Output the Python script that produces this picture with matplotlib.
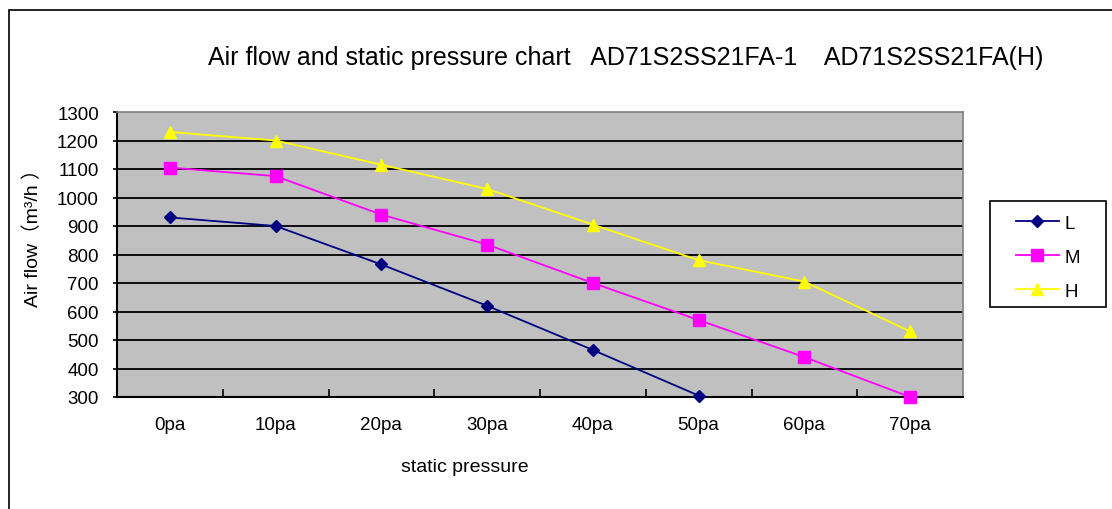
import matplotlib
matplotlib.use("Agg")
import matplotlib.pyplot as plt
from matplotlib.patches import Rectangle

categories = ["0pa", "10pa", "20pa", "30pa", "40pa", "50pa", "60pa", "70pa"]
L_vals = [930, 900, 765, 620, 465, 305]
M_vals = [1105, 1075, 940, 835, 700, 570, 440, 300]
H_vals = [1230, 1200, 1115, 1030, 905, 780, 705, 530]
y_ticks = [300, 400, 500, 600, 700, 800, 900, 1000, 1100, 1200, 1300]

FONT = ["Liberation Sans", "Noto Sans CJK SC", "DejaVu Sans"]
plt.rcParams['font.family'] = FONT

W, H = 1112, 510
fig = plt.figure(figsize=(W / 100, H / 100), dpi=100)

# outer chart border (left and top visible)
fig.add_artist(Rectangle((9 / W, -0.1), 1.2, 1 - 11 / H + 0.1, transform=fig.transFigure,
                         fill=False, edgecolor="black", linewidth=1.2))

ax = fig.add_axes([117 / W, 1 - 398 / H, (963 - 117) / W, (398 - 113) / H])
ax.set_facecolor("#C0C0C0")

x = list(range(len(categories)))
ax.plot(x[:len(L_vals)], L_vals, color="#000080", marker="D", markersize=6.5, linewidth=1.3,
        label="L", clip_on=False, zorder=3)
ax.plot(x, M_vals, color="#FF00FF", marker="s", markersize=8, linewidth=1.3,
        label="M", clip_on=False, zorder=3)
ax.plot(x, H_vals, color="#FFFF00", marker="^", markersize=9, linewidth=1.3,
        label="H", clip_on=False, zorder=3)

ax.set_xlim(-0.5, len(categories) - 0.5)
ax.set_ylim(300, 1300)
ax.set_yticks(y_ticks)
ax.set_yticklabels([str(v) for v in y_ticks], fontsize=13.5)
for v in y_ticks[1:-1]:
    ax.axhline(v, color="black", linewidth=1.3, zorder=1)

ax.set_xticks([i + 0.5 for i in range(len(categories) - 1)], minor=False)
ax.set_xticklabels([])
ax.set_xticks(x, minor=True)
ax.set_xticklabels(categories, minor=True, fontsize=13.5)
ax.tick_params(axis="x", which="major", direction="in", length=6, width=1.2)
ax.tick_params(axis="x", which="minor", length=0, pad=14)
ax.tick_params(axis="y", direction="out", length=3, width=1.2, pad=10)

for side in ["left", "bottom"]:
    ax.spines[side].set_color("black")
    ax.spines[side].set_linewidth(1.5)
for side in ["top", "right"]:
    ax.spines[side].set_color("#808080")
    ax.spines[side].set_linewidth(1.2)

fig.text(626 / W, 1 - 58 / H,
         "Air flow and static pressure chart   AD71S2SS21FA-1    AD71S2SS21FA(H)",
         ha="center", va="center", fontsize=18)
fig.text(465 / W, 1 - 468 / H, "static pressure", ha="center", va="center", fontsize=14)
fig.text(33 / W, 1 - 233 / H, "Air flow（m³/h ）", ha="center", va="center",
         rotation=90, fontsize=14, family=FONT)

# legend box
fig.add_artist(Rectangle((990 / W, 1 - 308 / H), (1106 - 990) / W, (308 - 202) / H,
                         transform=fig.transFigure, fill=False, edgecolor="black",
                         linewidth=1.2))
fig.legend(loc="center", bbox_to_anchor=(1048 / W, 1 - 258 / H),
           frameon=False, fontsize=13.5, labelspacing=0.9, handlelength=2.3,
           borderpad=0, borderaxespad=0, handletextpad=0.3)

fig.savefig("out.png", dpi=100)
